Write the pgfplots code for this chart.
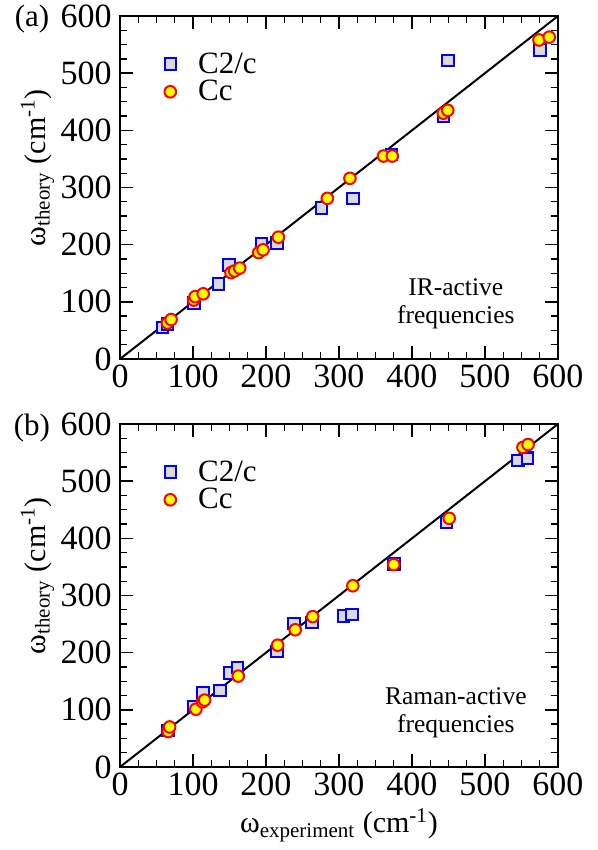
\documentclass[border=0pt]{standalone}
\usepackage{fontspec}
\setmainfont{Liberation Serif}
\usepackage{pgfplots}
\pgfplotsset{compat=1.18}
\definecolor{mblue}{RGB}{0,0,255}
\definecolor{mred}{RGB}{255,0,0}
\definecolor{myellow}{RGB}{255,255,0}
\definecolor{mgray}{RGB}{218,218,218}
\newcommand{\tickfont}{\fontsize{17}{19}\selectfont}
\pgfplotsset{
  myaxis/.style={
    scale only axis, width=219pt, height=171.5pt,
    xmin=0,xmax=600,ymin=0,ymax=600,
    xtick={0,100,...,600}, ytick={0,100,...,600},
    xticklabels={0,100,200,300,400,500,600},
    yticklabels={0,100,200,300,400,500,600},
    minor x tick num=3, minor y tick num=3,
    tick align=inside,
    major tick length=6.5pt, minor tick length=3.5pt,
    axis line style={line width=1.3pt},
    every tick/.style={black, line width=0.7pt},
    xticklabel style={font=\tickfont, inner sep=2.5pt},
    yticklabel style={font=\tickfont, inner sep=4pt},
    ylabel={ω\textsubscript{theory} (cm\textsuperscript{-1})},
    ylabel style={at={(rel axis cs:-0.1712,0.558)}, anchor=base, font=\fontsize{15}{18}\selectfont},
    legend style={draw=none, fill=none, at={(rel axis cs:0.087,0.918)}, anchor=north west,
      font=\fontsize{15.5}{16}\selectfont, row sep=-2pt,
      /tikz/every odd column/.append style={column sep=9pt}},
    legend cell align=left,
  },
  sq/.style={only marks, mark=square*, mark size=2.9pt, mark options={draw=mblue, fill=mgray, line width=1pt}},
  ci/.style={only marks, mark=*, mark size=2.9pt, mark options={draw=mred, fill=myellow, line width=1pt}},
}
\begin{document}
\begin{tikzpicture}
\path[use as bounding box] (0,0) rectangle (299pt,425pt);
\begin{axis}[myaxis, at={(60pt,245.5pt)}, anchor=south west]
\addplot[black, line width=1pt, forget plot] coordinates {(0,0) (600,600)};
\addplot[sq] coordinates {(58,55) (65,61) (101,98) (135,131) (149,164) (194,202) (215,203) (276,264) (319,281) (372,358) (443,425) (449,522) (575,540)};
\addlegendentry{C2/c}
\addplot[ci] coordinates {(65,63) (70,69) (101,103) (103,109) (114,114) (152,151) (157,154) (164,159) (190,186) (196,191) (217,213) (284,281) (315,316) (361,355) (373,355) (443,430) (449,435) (574,558) (588,563)};
\addlegendentry{Cc}
\node[align=center, font=\fontsize{12.75}{14}\selectfont] at (axis cs:460,96) {IR-active\\frequencies};
\end{axis}
\begin{axis}[myaxis, at={(60pt,41.5pt)}, anchor=south west,
  xlabel={ω\textsubscript{experiment} (cm\textsuperscript{-1})},
  xlabel style={at={(rel axis cs:0.5,-0.1924)}, anchor=base, font=\fontsize{15}{18}\selectfont}]
\addplot[black, line width=1pt, forget plot] coordinates {(0,0) (600,600)};
\addplot[sq] coordinates {(66,64) (101,106) (114,129) (137,134) (151,164) (161,174) (215,202) (238,251) (263,253) (306,264) (318,267) (375,355) (447,429) (545,536) (558,540)};
\addlegendentry{C2/c}
\addplot[ci] coordinates {(66,62) (68,70) (104,101) (113,114) (116,117) (162,159) (216,213) (240,240) (264,263) (319,317) (375,354) (451,435) (552,559) (559,564)};
\addlegendentry{Cc}
\node[align=center, font=\fontsize{12.75}{14}\selectfont] at (axis cs:460,94) {Raman-active\\frequencies};
\end{axis}
\node[font=\fontsize{15.5}{18}\selectfont] at (16pt,415.5pt) {(a)};
\node[font=\fontsize{15.5}{18}\selectfont] at (16pt,211pt) {(b)};
\end{tikzpicture}
\end{document}
